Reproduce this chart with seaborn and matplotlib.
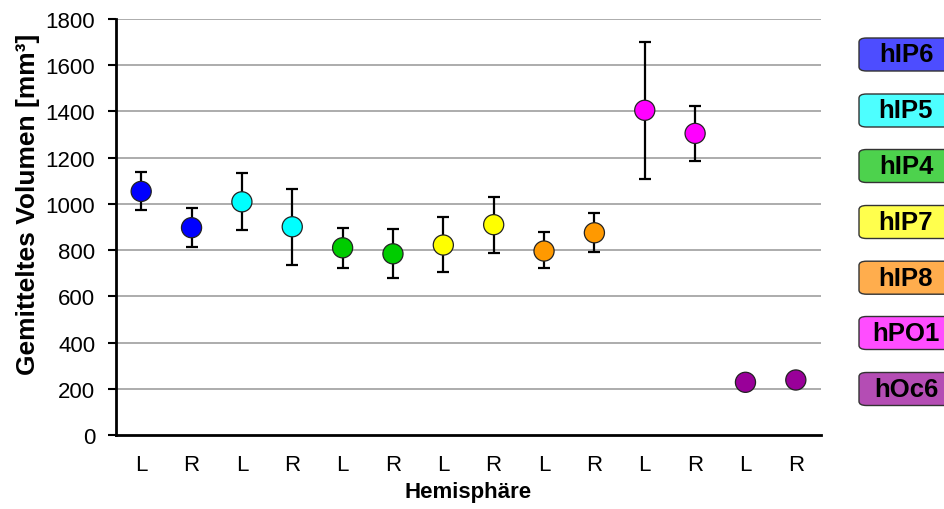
import numpy as np
import pandas as pd
import matplotlib
matplotlib.use("Agg")
import matplotlib.pyplot as plt
from matplotlib.patches import FancyBboxPatch
import seaborn as sns

# ---- data ----
regions = ["hIP6", "hIP6", "hIP5", "hIP5", "hIP4", "hIP4", "hIP7", "hIP7",
           "hIP8", "hIP8", "hPO1", "hPO1", "hOc6", "hOc6"]
hemis = ["L", "R"] * 7
means = [1054, 897, 1009, 901, 810, 784, 822, 910, 796, 875, 1405, 1305, 228, 238]
err_hi = [1138, 982, 1135, 1066, 896, 890, 942, 1030, 877, 961, 1700, 1422, np.nan, np.nan]
err_lo = [975, 813, 887, 737, 724, 679, 704, 789, 723, 790, 1108, 1186, np.nan, np.nan]
legend_names = ["hIP6", "hIP5", "hIP4", "hIP7", "hIP8", "hPO1", "hOc6"]
marker_colors = ["#0000FF", "#00FFFF", "#00CC00", "#FFFF00", "#FF9900", "#FF00FF", "#990099"]
box_colors = ["#4D4DFF", "#4DFFFF", "#4DD24D", "#FFFF4D", "#FFAD4D", "#FF4DFF", "#B44DB4"]
yticks = [0, 200, 400, 600, 800, 1000, 1200, 1400, 1600, 1800]

df = pd.DataFrame({"pos": np.arange(len(means)), "region": regions, "hemi": hemis,
                   "mean": means, "hi": err_hi, "lo": err_lo})

sns.set_theme(style="white")
plt.rcParams["font.family"] = ["Liberation Sans", "DejaVu Sans"]
for k in ["text.color", "axes.labelcolor", "xtick.color", "ytick.color"]:
    plt.rcParams[k] = "black"

fig = plt.figure(figsize=(9.44, 5.10), dpi=100)
ax = fig.add_axes([116/944, 1 - 436/510, (821-116)/944, (436-20)/510])

# grid
for t in yticks[1:]:
    ax.axhline(t, color="#A6A6A6", lw=1.3, zorder=0)

# error bars
m = df.dropna()
ax.errorbar(m["pos"], m["mean"], yerr=[m["mean"] - m["lo"], m["hi"] - m["mean"]],
            fmt="none", ecolor="black", elinewidth=1.6, capsize=4.5, capthick=1.6, zorder=2)

pal = dict(zip(legend_names, marker_colors))
sns.scatterplot(data=df, x="pos", y="mean", hue="region", palette=pal, s=210,
                edgecolor="#222222", linewidth=0.9, legend=False, ax=ax, zorder=3)

ax.set_xlim(-0.5, len(means) - 0.5)
ax.set_ylim(0, 1800)
ax.set_yticks(yticks)
ax.set_yticklabels([str(t) for t in yticks], fontsize=16)
ax.set_xticks(df["pos"])
ax.set_xticklabels(hemis, fontsize=16)
ax.tick_params(axis="y", direction="out", length=6, width=1.5, color="black", pad=9, left=True)
ax.tick_params(axis="x", length=0, pad=14)
for s in ["top", "right"]:
    ax.spines[s].set_visible(False)
for s in ["left", "bottom"]:
    ax.spines[s].set_color("black")
    ax.spines[s].set_linewidth(2)
ax.set_xlabel("Hemisphäre", fontsize=16, fontweight="bold")
ax.set_ylabel("Gemitteltes Volumen [mm³]", fontsize=19, fontweight="bold")
ax.xaxis.set_label_coords(0.5, (436 - 482) / 416)
ax.yaxis.set_label_coords((40 - 116) / 705, (436 - 204) / 416)

# legend boxes
W, H = 944, 510
ycent = [55.5, 111.5, 167, 223, 278.7, 334, 390]
for name, col, yc in zip(legend_names, box_colors, ycent):
    bw, bh = 94, 33
    patch = FancyBboxPatch((859 / W, 1 - (yc + bh/2) / H), bw / W, bh / H,
                           boxstyle="round,pad=0,rounding_size=0.008",
                           transform=fig.transFigure, facecolor=col,
                           edgecolor="#333333", linewidth=1.0, clip_on=False)
    fig.patches.append(patch)
    fig.text(906 / W, 1 - yc / H, name, ha="center", va="center",
             fontsize=18.5, fontweight="bold", color="black")

fig.savefig("out.png", dpi=100)
